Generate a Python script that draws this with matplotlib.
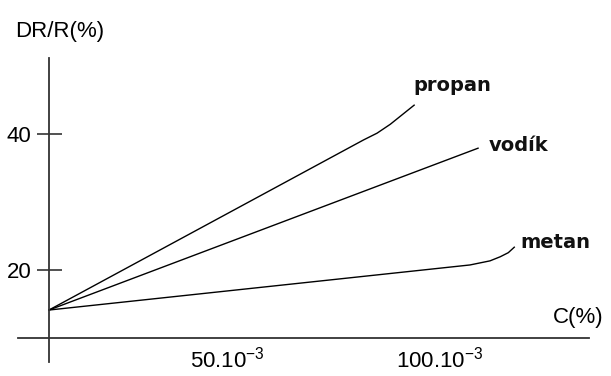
import matplotlib
matplotlib.use("Agg")
import matplotlib.pyplot as plt

# concentration C in units of 1e-3 %, relative change DR/R in %
# (schematic drawing: axes cross at C=8.2, DR/R=10.1)
y_axis_c = 8.2
x_axis_r = 10.1

propan_c = [8.2, 82.0, 85.2, 88.3, 91.1, 93.9]
propan_r = [14.2, 39.1, 40.1, 41.4, 42.8, 44.2]

vodik_c = [8.2, 108.9]
vodik_r = [14.2, 37.9]

metan_c = [8.2, 107.0, 111.7, 114.1, 116.0, 117.4]
metan_r = [14.2, 20.8, 21.4, 22.0, 22.6, 23.4]

y_ticks = [20, 40]
x_ticks = [50, 100]
x_tick_labels = [r'$\mathregular{50.10^{-3}}$', r'$\mathregular{100.10^{-3}}$']

plt.rcParams['font.family'] = ['Liberation Sans', 'DejaVu Sans']

fig = plt.figure(figsize=(6.11, 3.76), dpi=100)
ax = fig.add_axes([0, 0, 1, 1])
ax.set_xlim(-3.29, 140.1)
ax.set_ylim(4.54, 59.6)

for c, r in [(propan_c, propan_r), (vodik_c, vodik_r), (metan_c, metan_r)]:
    ax.plot(c, r, color='black', lw=1.0)

# curve names
lab_font = dict(family='DejaVu Sans', fontsize=14, fontweight='bold', color='#111111', va='baseline')
ax.text(93.7, 46.3, 'propan', **lab_font)
ax.text(111.3, 37.5, 'vodík', **lab_font)
ax.text(118.8, 23.3, 'metan', **lab_font)

# axes drawn as crossing lines
for side in ['top', 'right']:
    ax.spines[side].set_visible(False)
ax.spines['left'].set_position(('data', y_axis_c))
ax.spines['bottom'].set_position(('data', x_axis_r))
ax.spines['left'].set_bounds(6.6, 51.1)
ax.spines['bottom'].set_bounds(0.9, 135)
for side in ['left', 'bottom']:
    ax.spines[side].set_color('#333333')
    ax.spines[side].set_linewidth(1.3)

ax.set_yticks(y_ticks)
ax.set_yticklabels([str(v) for v in y_ticks], fontsize=16)
ax.tick_params(axis='y', direction='inout', length=18, width=1.2, color='#333333', pad=3.6)
ax.set_xticks(x_ticks)
ax.set_xticklabels(x_tick_labels, fontsize=16)
ax.tick_params(axis='x', length=0, pad=6)

fig.text(15 / 611, 1 - 31 / 376, 'DR/R(%)', fontsize=16, va='center', ha='left')
fig.text(553 / 611, 1 - 318 / 376, 'C(%)', fontsize=16, va='center', ha='left')

fig.savefig('out.png', dpi=100)
